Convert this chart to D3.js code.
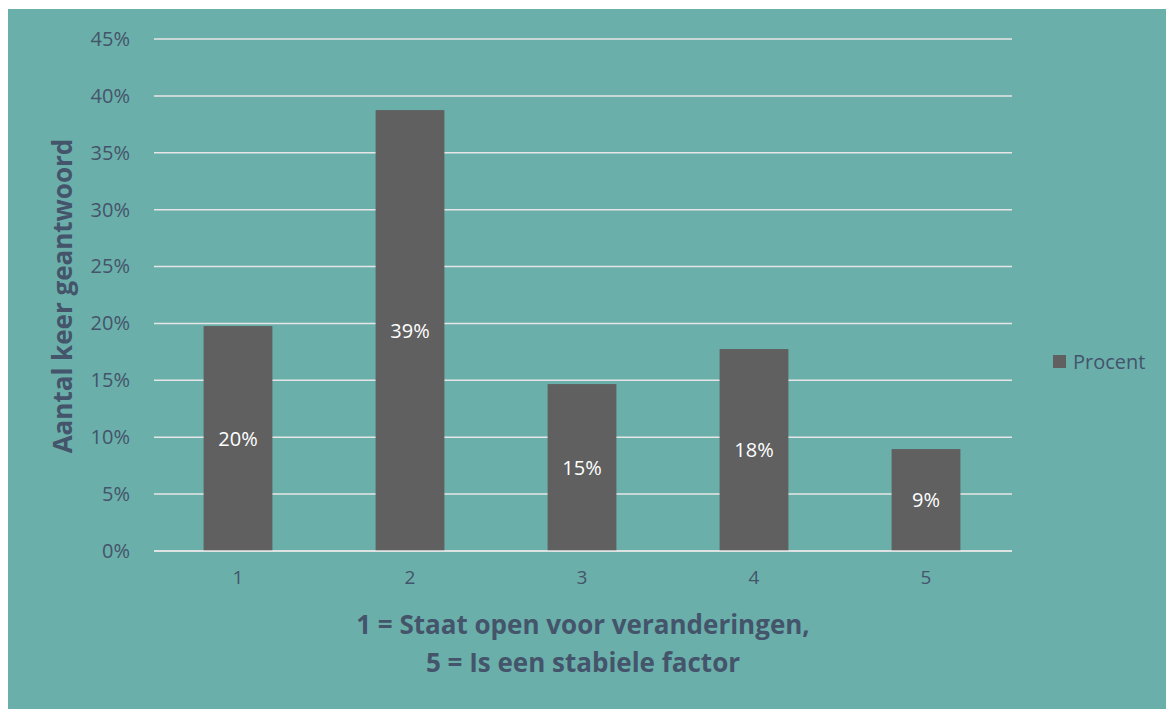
<!DOCTYPE html>
<html>
<head>
<meta charset="utf-8">
<script src="https://cdn.jsdelivr.net/npm/d3@7"></script>
<style>
  body { margin: 0; background: #ffffff; }
  text { font-family: "Open Sans", "Liberation Sans", sans-serif; }
</style>
</head>
<body>
<div id="chart"></div>
<script>
// data
let categories = ["1", "2", "3", "4", "5"];
let values = [0.1977, 0.3875, 0.1467, 0.1775, 0.0896];
let valueLabels = ["20%", "39%", "15%", "18%", "9%"];
let yTicks = [0, 0.05, 0.10, 0.15, 0.20, 0.25, 0.30, 0.35, 0.40, 0.45];
let seriesName = "Procent";

let width = 1168, height = 709;
let plot = {left: 154, right: 1012, top: 39, bottom: 551};

let textColor = "#44546a";
let barColor = "#606060";

let svg = d3.select("#chart").append("svg")
    .attr("width", width)
    .attr("height", height);

// teal panel
svg.append("rect")
    .attr("x", 8).attr("y", 9)
    .attr("width", 1158).attr("height", 700)
    .attr("fill", "#6bafab");

let x = d3.scaleBand()
    .domain(categories)
    .range([plot.left - 2, plot.right])
    .paddingInner(0.6)
    .paddingOuter(0.3);

let y = d3.scaleLinear()
    .domain([0, 0.45])
    .range([plot.bottom, plot.top]);

// gridlines
svg.append("g")
    .selectAll("line")
    .data(yTicks)
    .join("line")
    .attr("x1", plot.left).attr("x2", plot.right)
    .attr("y1", d => y(d)).attr("y2", d => y(d))
    .attr("stroke", "#e6e6e6")
    .attr("stroke-width", 1.5);

// y tick labels
let yAxis = d3.axisLeft(y)
    .tickValues(yTicks)
    .tickFormat(d3.format(".0%"))
    .tickSize(0)
    .tickPadding(24);

svg.append("g")
    .attr("transform", "translate(" + plot.left + ",0)")
    .call(yAxis)
    .call(g => g.select(".domain").remove())
    .selectAll("text")
    .attr("fill", textColor)
    .style("font-size", "20px");

// bars
svg.append("g")
    .selectAll("rect")
    .data(values)
    .join("rect")
    .attr("x", (d, i) => x(categories[i]))
    .attr("y", d => y(d))
    .attr("width", x.bandwidth())
    .attr("height", d => y(0) - y(d))
    .attr("fill", barColor);

// data labels centred in bars
svg.append("g")
    .selectAll("text")
    .data(values)
    .join("text")
    .attr("x", (d, i) => x(categories[i]) + x.bandwidth() / 2)
    .attr("y", d => (y(d) + y(0)) / 2)
    .attr("dy", "0.35em")
    .attr("text-anchor", "middle")
    .attr("fill", "#ffffff")
    .style("font-size", "20px")
    .text((d, i) => valueLabels[i]);

// redraw the baseline over bars
svg.append("line")
    .attr("x1", plot.left).attr("x2", plot.right)
    .attr("y1", y(0)).attr("y2", y(0))
    .attr("stroke", "#e6e6e6")
    .attr("stroke-width", 1.5);

// x tick labels
let xAxis = d3.axisBottom(x).tickSize(0).tickPadding(20);
svg.append("g")
    .attr("transform", "translate(0," + plot.bottom + ")")
    .call(xAxis)
    .call(g => g.select(".domain").remove())
    .selectAll("text")
    .attr("fill", textColor)
    .style("font-size", "19px");

// axis titles
svg.append("text")
    .attr("transform", "translate(72,296) rotate(-90)")
    .attr("text-anchor", "middle")
    .attr("fill", textColor)
    .style("font-size", "26px")
    .style("font-weight", "bold")
    .text("Aantal keer geantwoord");

let xTitle = svg.append("text")
    .attr("text-anchor", "middle")
    .attr("fill", textColor)
    .style("font-size", "26px")
    .style("font-weight", "bold");
xTitle.append("tspan").attr("x", 583).attr("y", 634).text("1 = Staat open voor veranderingen,");
xTitle.append("tspan").attr("x", 583).attr("y", 672).text("5 = Is een stabiele factor");

// legend
let legend = svg.append("g").attr("transform", "translate(1053,355)");
legend.append("rect")
    .attr("width", 13).attr("height", 13)
    .attr("fill", barColor);
legend.append("text")
    .attr("x", 20).attr("y", 6.5)
    .attr("dy", "0.35em")
    .attr("fill", textColor)
    .style("font-size", "20px")
    .text(seriesName);
</script>
</body>
</html>
